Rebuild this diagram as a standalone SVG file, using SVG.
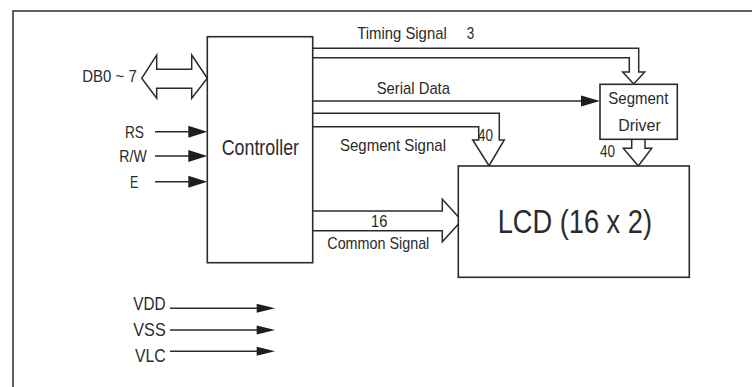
<svg xmlns="http://www.w3.org/2000/svg" width="752" height="387" viewBox="0 0 752 387">
<style>
  .ln { fill: none; stroke: #2b2b2b; stroke-width: 1.5; stroke-linejoin: miter; }
  .box { fill: #ffffff; stroke: #2b2b2b; stroke-width: 1.6; }
  .ah { fill: #1e1e1e; stroke: none; }
  text { font-family: "Liberation Sans Narrow", "Liberation Sans", Arial, sans-serif; fill: #2b2b2b; }
  .s { font-size: 17px; }
  .v { font-size: 19px; }
</style>
<rect x="0" y="0" width="752" height="387" fill="#ffffff"/>
<g id="frame">
  <path class="ln" d="M13,387 V11 H752"/>
</g>

<g id="connectors">
  <!-- DB0~7 bidirectional bus -->
  <path class="ln" d="M141.7,78.3 L156.7,55 V69.3 H191.7 V55 L207.3,78.3 L191.7,98.3 V88.3 H156.7 V98.3 Z"/>
  <!-- RS, R/W, E -->
  <path class="ln" d="M155,131.7 H192 M155,156 H192 M155,181.7 H192"/>
  <path class="ah" d="M188.3,125.7 L207.3,131.7 L188.3,137.7 Z"/>
  <path class="ah" d="M188.3,150 L207.3,156 L188.3,162 Z"/>
  <path class="ah" d="M188.3,175.7 L207.3,181.7 L188.3,187.7 Z"/>
  <!-- Timing Signal bus -->
  <path class="ln" d="M311,48.3 H638.7 V72 H644.7 L633.7,84 L622.7,72 H629.3 V57.7 H311"/>
  <!-- Serial Data -->
  <path class="ln" d="M311,101 H585"/>
  <path class="ah" d="M581,95.5 L600,101 L581,106.5 Z"/>
  <!-- Segment Signal bus -->
  <path class="ln" d="M311,113.3 H499.3 V140 H504.3 L489,165.7 L472.7,140 H478.7 V126.7 H311"/>
  <!-- Segment Driver output -->
  <path class="ln" d="M631.7,139.3 V148.3 H623.3 L638.3,166 L651.7,148.3 H645 V139.3"/>
  <!-- Common Signal bus -->
  <path class="ln" d="M311,211 H442.3 V199.3 L461.7,220.5 L442.3,241.7 V230.7 H311"/>
  <!-- VDD, VSS, VLC -->
  <path class="ln" d="M170,308.3 H260 M170,330 H260 M170,351.3 H260"/>
  <path class="ah" d="M256.7,303.8 L275,308.3 L256.7,312.8 Z"/>
  <path class="ah" d="M256.7,325.5 L275,330 L256.7,334.5 Z"/>
  <path class="ah" d="M256.7,346.8 L275,351.3 L256.7,355.8 Z"/>
</g>

<g id="controller">
  <rect class="box" x="207.3" y="36.7" width="105.4" height="226"/>
  <text x="221.7" y="155" font-size="22" textLength="77.3" lengthAdjust="spacingAndGlyphs">Controller</text>
</g>

<g id="segment-driver">
  <rect class="box" x="600" y="84.3" width="77.3" height="55"/>
  <text class="s" x="608.3" y="104" textLength="60" lengthAdjust="spacingAndGlyphs">Segment</text>
  <text class="s" x="618.3" y="131" textLength="42.4" lengthAdjust="spacingAndGlyphs">Driver</text>
</g>

<g id="lcd">
  <rect class="box" x="458.3" y="166" width="231" height="111.3"/>
  <text x="497.7" y="232.5" font-size="33" textLength="154.3" lengthAdjust="spacingAndGlyphs">LCD (16 x 2)</text>
</g>

<g id="labels">
  <text class="s" x="82.3" y="82.3" textLength="54.4" lengthAdjust="spacingAndGlyphs">DB0 ~ 7</text>
  <text class="s" x="125" y="138" textLength="19" lengthAdjust="spacingAndGlyphs">RS</text>
  <text class="s" x="119.3" y="161.7" textLength="27.4" lengthAdjust="spacingAndGlyphs">R/W</text>
  <text class="s" x="130" y="188" textLength="8.3" lengthAdjust="spacingAndGlyphs">E</text>
  <text class="s" x="357.3" y="38.5" textLength="89.4" lengthAdjust="spacingAndGlyphs">Timing Signal</text>
  <text class="s" x="466.7" y="38.5" textLength="7.5" lengthAdjust="spacingAndGlyphs">3</text>
  <text class="s" x="376.7" y="94.3" textLength="73.3" lengthAdjust="spacingAndGlyphs">Serial Data</text>
  <text class="s" x="340" y="151" textLength="106" lengthAdjust="spacingAndGlyphs">Segment Signal</text>
  <text class="s" x="478" y="141" textLength="15" lengthAdjust="spacingAndGlyphs">40</text>
  <text class="s" x="600" y="157" textLength="15" lengthAdjust="spacingAndGlyphs">40</text>
  <text class="s" x="371" y="227.3" textLength="16.3" lengthAdjust="spacingAndGlyphs">16</text>
  <text class="s" x="327.3" y="248.5" textLength="102" lengthAdjust="spacingAndGlyphs">Common Signal</text>
  <text class="v" x="133.3" y="310" textLength="32.4" lengthAdjust="spacingAndGlyphs">VDD</text>
  <text class="v" x="133.3" y="335.7" textLength="32.4" lengthAdjust="spacingAndGlyphs">VSS</text>
  <text class="v" x="135" y="361.5" textLength="30.7" lengthAdjust="spacingAndGlyphs">VLC</text>
</g>
</svg>
